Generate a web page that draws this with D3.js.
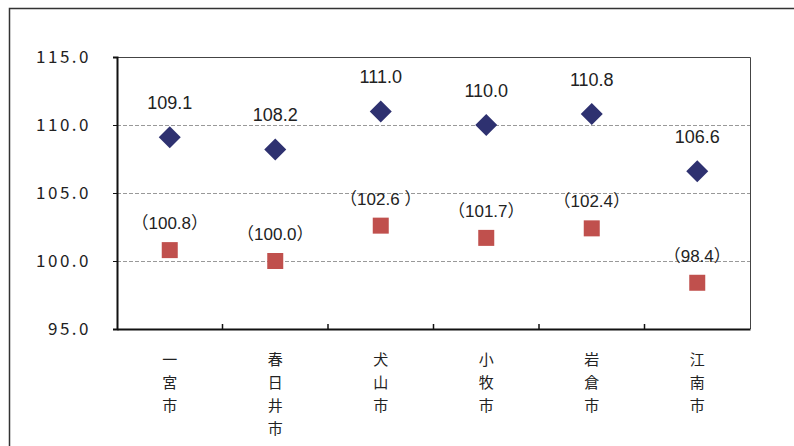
<!DOCTYPE html>
<html>
<head>
<meta charset="utf-8">
<script src="https://cdn.jsdelivr.net/npm/d3@7"></script>
<style>
  body { margin: 0; background: #fff; }
  svg { display: block; }
</style>
</head>
<body>
<svg id="chart" width="794" height="446"></svg>
<script>
// Data
const cities = ['一宮市', '春日井市', '犬山市', '小牧市', '岩倉市', '江南市'];
const diamondValues = [109.1, 108.2, 111.0, 110.0, 110.8, 106.6];
const squareValues = [100.8, 100.0, 102.6, 101.7, 102.4, 98.4];
const squareLabels = ['（100.8）', '（100.0）', '（102.6 ）', '（101.7）', '（102.4）', '（98.4）'];
const yTicks = [95, 100, 105, 110, 115];
const gridTicks = [100, 105, 110];

const svg = d3.select('#chart');
const plot = { left: 117, right: 750, top: 57, bottom: 329 };

// Outer frame
svg.append('path')
    .attr('d', 'M9.5,446 L9.5,8.5 L794,8.5')
    .attr('fill', 'none')
    .attr('stroke', '#333')
    .attr('stroke-width', 1.5);

const x = d3.scaleBand()
    .domain(cities)
    .range([plot.left, plot.right]);

const y = d3.scaleLinear()
    .domain([95, 115])
    .range([plot.bottom, plot.top]);

// Grid lines
svg.append('g')
    .selectAll('line')
    .data(gridTicks)
    .join('line')
    .attr('x1', plot.left)
    .attr('x2', plot.right)
    .attr('y1', d => Math.round(y(d)) + 0.5)
    .attr('y2', d => Math.round(y(d)) + 0.5)
    .attr('stroke', '#999')
    .attr('stroke-width', 1)
    .attr('stroke-dasharray', '4,2');

// Top and right border
svg.append('path')
    .attr('d', `M${plot.left},${plot.top + 0.5} L${plot.right + 0.5},${plot.top + 0.5} L${plot.right + 0.5},${plot.bottom}`)
    .attr('fill', 'none')
    .attr('stroke', '#444')
    .attr('stroke-width', 1);

// Y axis
const yAxis = svg.append('g')
    .attr('transform', `translate(${plot.left},0)`)
    .call(d3.axisLeft(y).tickValues(yTicks).tickSize(4).tickFormat(d3.format('.1f')));
yAxis.select('.domain').attr('stroke', '#111').attr('stroke-width', 2);
yAxis.selectAll('.tick line').attr('stroke', '#111');
yAxis.selectAll('.tick text')
    .attr('x', -26)
    .style('font-family', "'Noto Sans CJK JP', sans-serif")
    .style('font-size', '17px')
    .style('letter-spacing', '2.5px')
    .attr('fill', '#222');

// X axis with inner ticks at category boundaries
const xAxis = svg.append('g')
    .attr('transform', `translate(0,${plot.bottom})`)
    .call(d3.axisBottom(x).tickSize(0).tickFormat(''));
xAxis.select('.domain').attr('stroke', '#111').attr('stroke-width', 2);
xAxis.selectAll('.boundary')
    .data(cities.slice(1))
    .join('line')
    .attr('class', 'boundary')
    .attr('x1', d => x(d))
    .attr('x2', d => x(d))
    .attr('y1', 0)
    .attr('y2', -5)
    .attr('stroke', '#111')
    .attr('stroke-width', 1.5);

// Vertical category labels
const catLabels = svg.append('g');
cities.forEach(c => {
    const cx = x(c) + x.bandwidth() / 2;
    Array.from(c).forEach((ch, i) => {
        catLabels.append('text')
            .attr('x', cx)
            .attr('y', 365 + i * 23)
            .attr('text-anchor', 'middle')
            .style('font-family', "'Noto Sans CJK JP', sans-serif")
            .style('font-size', '15px')
            .attr('fill', '#222')
            .text(ch);
    });
});

const cxOf = i => x(cities[i]) + x.bandwidth() / 2;

// Square series
svg.append('g')
    .selectAll('rect')
    .data(squareValues)
    .join('rect')
    .attr('x', (d, i) => cxOf(i) - 8)
    .attr('y', d => y(d) - 8)
    .attr('width', 16)
    .attr('height', 16)
    .attr('fill', '#c0504d');

const sqText = svg.append('g')
    .selectAll('text')
    .data(squareValues)
    .join('text')
    .attr('x', (d, i) => cxOf(i))
    .attr('y', d => y(d) - 21)
    .attr('text-anchor', 'middle')
    .style('font-family', "'Liberation Sans', Arial, sans-serif")
    .style('font-size', '17px')
    .attr('fill', '#222');
sqText.each(function (d, i) {
    const parts = squareLabels[i].match(/（|）|[^（）]+/g);
    const t = d3.select(this);
    parts.forEach(p => {
        t.append('tspan')
            .style('font-family', p === '（' || p === '）' ? "'Noto Sans CJK JP', sans-serif" : "'Liberation Sans', Arial, sans-serif")
            .text(p);
    });
});

// Diamond series
svg.append('g')
    .selectAll('path')
    .data(diamondValues)
    .join('path')
    .attr('transform', (d, i) => `translate(${cxOf(i)},${y(d)})`)
    .attr('d', 'M0,-11 L11,0 L0,11 L-11,0 Z')
    .attr('fill', '#2e3170');

svg.append('g')
    .selectAll('text')
    .data(diamondValues)
    .join('text')
    .attr('x', (d, i) => cxOf(i))
    .attr('y', d => y(d) - 28)
    .attr('text-anchor', 'middle')
    .style('font-family', "'Liberation Sans', Arial, sans-serif")
    .style('font-size', '18px')
    .attr('fill', '#222')
    .text(d => d.toFixed(1));
</script>
</body>
</html>
